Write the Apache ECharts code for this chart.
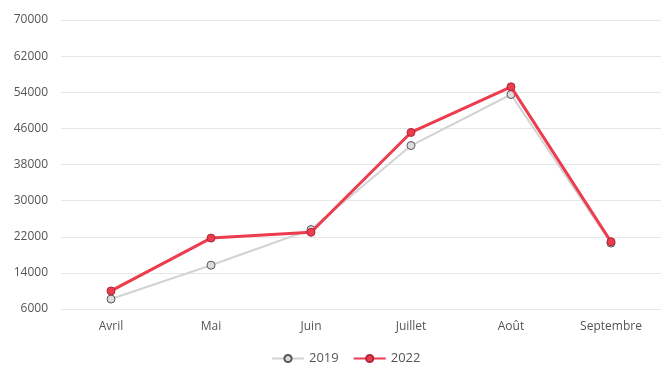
<!DOCTYPE html>
<html>
<head>
<meta charset="utf-8">
<script src="https://cdn.jsdelivr.net/npm/echarts@6/dist/echarts.min.js"></script>
<style>
  html, body { margin: 0; padding: 0; background: #fff; }
  #chart { width: 661px; height: 367px; }
</style>
</head>
<body>
<div id="chart"></div>
<script>
// Monthly visitor counts, April to September
const months = ['Avril', 'Mai', 'Juin', 'Juillet', 'Août', 'Septembre'];
const values2019 = [8200, 15700, 23600, 42200, 53500, 20600];
const values2022 = [10000, 21700, 23000, 45100, 55200, 20900];
const seriesNames = ['2019', '2022'];

const chart = echarts.init(document.getElementById('chart'), null, { renderer: 'canvas' });

const labelFont = { fontFamily: 'Open Sans', fontSize: 12, color: '#555' };

chart.setOption({
  animation: false,
  grid: { left: 61, top: 20, width: 603, bottom: 58 },
  legend: {
    bottom: -3,
    left: 266,
    itemWidth: 32,
    itemHeight: 9,
    itemGap: 14,
    textStyle: { fontFamily: 'Open Sans', fontSize: 13, color: '#555' },
    data: seriesNames
  },
  xAxis: {
    type: 'category',
    data: months,
    boundaryGap: true,
    axisLine: { show: false },
    axisTick: { show: false },
    axisLabel: Object.assign({ margin: 12 }, labelFont)
  },
  yAxis: {
    type: 'value',
    min: 6000,
    max: 70000,
    interval: 8000,
    axisLine: { show: false },
    axisTick: { show: false },
    axisLabel: Object.assign({ margin: 13, formatter: function (v) { return String(v); } }, labelFont),
    splitLine: { lineStyle: { color: '#e6e6e6', width: 1 } }
  },
  series: [
    {
      name: seriesNames[0],
      type: 'line',
      data: values2019,
      symbol: 'circle',
      symbolSize: 8,
      z: 2,
      lineStyle: { color: '#d3d3d3', width: 2 },
      itemStyle: { color: '#dcdcdc', borderColor: '#555', borderWidth: 1 }
    },
    {
      name: seriesNames[1],
      type: 'line',
      data: values2022,
      symbol: 'circle',
      symbolSize: 8,
      z: 3,
      lineStyle: { color: '#ec3c4e', width: 3 },
      itemStyle: { color: '#ec3c4e', borderColor: '#b0283a', borderWidth: 1 }
    }
  ]
});
</script>
</body>
</html>
